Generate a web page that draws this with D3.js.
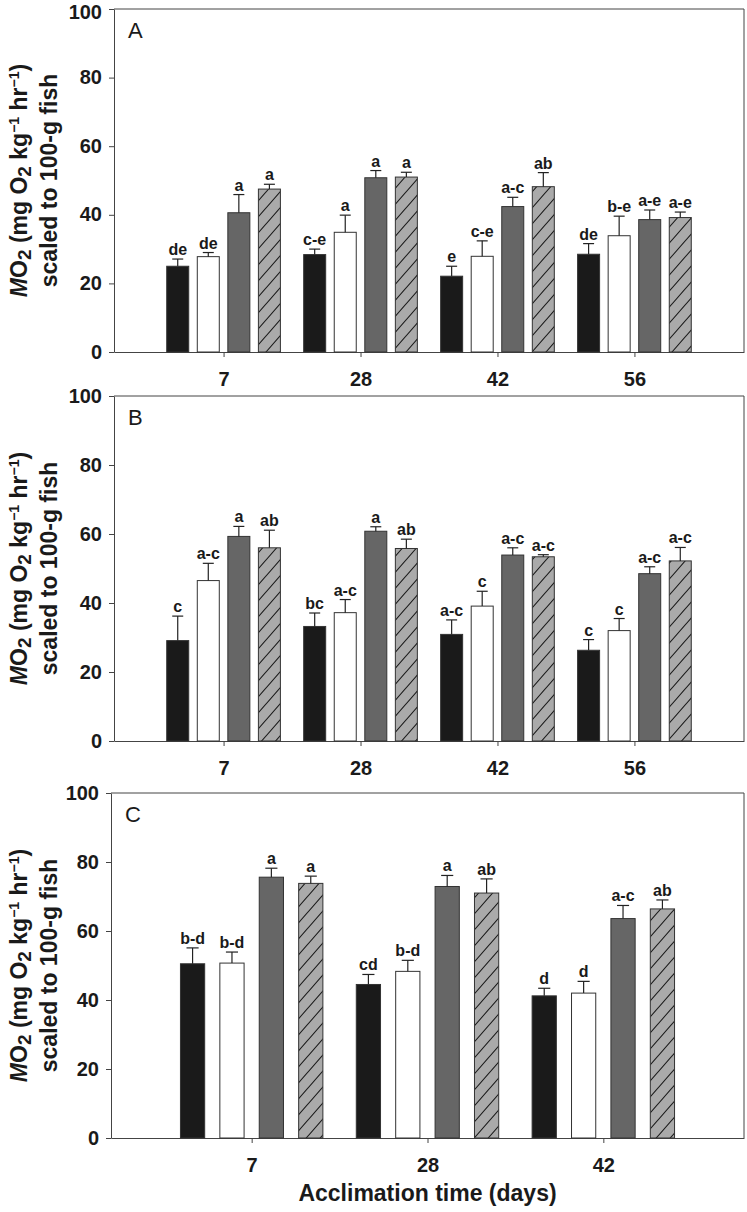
<!DOCTYPE html>
<html>
<head>
<meta charset="utf-8">
<script src="https://cdn.jsdelivr.net/npm/d3@7"></script>
<style>
  html, body { margin: 0; padding: 0; background: #fff; }
  svg { display: block; }
  text { font-family: "Liberation Sans", Arial, sans-serif; }
</style>
</head>
<body>
<svg id="chart" width="747" height="1212"></svg>
<script>
// ---------------- data ----------------
const daysAB = ["7", "28", "42", "56"];
const daysC = ["7", "28", "42"];
const treatments = ["T1", "T2", "T3", "T4"];
const yTicks = [0, 20, 40, 60, 80, 100];

const meanA = [[25.0, 27.8, 40.6, 47.5], [28.4, 34.9, 50.8, 51.0], [22.1, 27.9, 42.4, 48.2], [28.5, 33.9, 38.6, 39.2]];
const errA  = [[2.1, 1.2, 5.3, 1.4], [1.6, 5.0, 2.1, 1.4], [2.9, 4.5, 2.7, 4.1], [3.1, 5.7, 2.8, 1.6]];
const letA  = [["de", "de", "a", "a"], ["c-e", "a", "a", "a"], ["e", "c-e", "a-c", "ab"], ["de", "b-e", "a-e", "a-e"]];

const meanB = [[29.1, 46.5, 59.3, 56.0], [33.2, 37.2, 60.8, 55.8], [30.9, 39.1, 53.9, 53.4], [26.3, 32.0, 48.5, 52.2]];
const errB  = [[7.1, 5.0, 2.9, 5.1], [3.9, 3.8, 1.3, 2.7], [4.2, 4.3, 2.1, 0.6], [3.1, 3.5, 2.0, 3.9]];
const letB  = [["c", "a-c", "a", "ab"], ["bc", "a-c", "a", "ab"], ["a-c", "c", "a-c", "a-c"], ["c", "c", "a-c", "a-c"]];

const meanC = [[50.5, 50.7, 75.6, 73.8], [44.5, 48.3, 72.9, 71.0], [41.2, 42.0, 63.6, 66.4]];
const errC  = [[4.6, 3.2, 2.6, 2.1], [2.9, 3.2, 3.2, 4.1], [2.2, 3.4, 3.8, 2.6]];
const letC  = [["b-d", "b-d", "a", "a"], ["cd", "b-d", "a", "ab"], ["d", "d", "a-c", "ab"]];

const panelNames = ["A", "B", "C"];
const xTitle = "Acclimation time (days)";

// ---------------- styles / layout ----------------
const fills = ["#1a1a1a", "#ffffff", "#666666", "url(#hatch)"];
const svg = d3.select("#chart");

const defs = svg.append("defs");
const pat = defs.append("pattern")
  .attr("id", "hatch").attr("patternUnits", "userSpaceOnUse")
  .attr("width", 14).attr("height", 16);
pat.append("rect").attr("width", 14).attr("height", 16).attr("fill", "#aaaaaa");
pat.append("path").attr("d", "M0,16 L14,0 M-2,2.3 L2,-2.3 M12,18.3 L16,13.7")
  .attr("stroke", "#1a1a1a").attr("stroke-width", 1.1);

const panels = [
  { name: panelNames[0], days: daysAB, mean: meanA, err: errA, lets: letA, x0: 114, x1: 744, yTop: 9,   yBot: 352, groupFrac: 0.83, inner: 0.28, topLabelDy: "0.46em" },
  { name: panelNames[1], days: daysAB, mean: meanB, err: errB, lets: letB, x0: 114, x1: 744, yTop: 396, yBot: 741, groupFrac: 0.83, inner: 0.28, topLabelDy: "0.3em" },
  { name: panelNames[2], days: daysC,  mean: meanC, err: errC, lets: letC, x0: 111, x1: 744, yTop: 793, yBot: 1138, groupFrac: 0.81, inner: 0.385, topLabelDy: "0.3em" }
];

const FONT = "'Liberation Sans', Arial, sans-serif";

panels.forEach((p, pi) => {
  const g = svg.append("g");
  const x = d3.scalePoint().domain(p.days).range([p.x0, p.x1]).padding(0.8);
  const y = d3.scaleLinear().domain([0, 100]).range([p.yBot, p.yTop]);
  const groupW = x.step() * p.groupFrac;
  const xs = d3.scaleBand().domain(treatments).range([-groupW / 2, groupW / 2]).paddingInner(p.inner).paddingOuter(0);

  // frame (top & right)
  g.append("path")
    .attr("d", `M${p.x0},${p.yTop}H${p.x1}V${p.yBot}`)
    .attr("fill", "none").attr("stroke", "#444").attr("stroke-width", 1);

  // y axis
  const yAxis = d3.axisLeft(y).tickValues(yTicks).tickSize(5).tickPadding(7).tickSizeOuter(0);
  const ya = g.append("g").attr("transform", `translate(${p.x0},0)`).call(yAxis);
  ya.select(".domain").attr("stroke", "#444");
  ya.selectAll(".tick line").attr("stroke", "#444");
  ya.selectAll(".tick text").attr("font-size", 20).attr("font-weight", "bold")
    .attr("font-family", FONT).attr("fill", "#1a1a1a")
    .attr("dy", d => d === 100 ? p.topLabelDy : "0.3em");

  // x axis
  const xAxis = d3.axisBottom(x).tickSize(5).tickPadding(15).tickSizeOuter(0);
  const xa = g.append("g").attr("transform", `translate(0,${p.yBot})`).call(xAxis);
  xa.select(".domain").attr("stroke", "#444");
  xa.selectAll(".tick line").attr("stroke", "#444");
  xa.selectAll(".tick text").attr("font-size", 20).attr("font-weight", "bold")
    .attr("font-family", FONT).attr("fill", "#1a1a1a");

  // bars
  const rows = [];
  p.days.forEach((d, i) => treatments.forEach((t, j) => {
    rows.push({ day: d, t, j, v: p.mean[i][j], e: p.err[i][j], l: p.lets[i][j] });
  }));
  const bw = xs.bandwidth();
  const bars = g.append("g");
  bars.selectAll("rect").data(rows).join("rect")
    .attr("x", r => x(r.day) + xs(r.t))
    .attr("y", r => y(r.v))
    .attr("width", bw)
    .attr("height", r => y(0) - y(r.v))
    .attr("fill", r => fills[r.j])
    .attr("stroke", "#333").attr("stroke-width", 1);

  // error bars
  const eb = g.append("g").attr("stroke", "#222").attr("stroke-width", 1.2);
  eb.selectAll("line.v").data(rows).join("line").attr("class", "v")
    .attr("x1", r => x(r.day) + xs(r.t) + bw / 2).attr("x2", r => x(r.day) + xs(r.t) + bw / 2)
    .attr("y1", r => y(r.v)).attr("y2", r => y(r.v + r.e));
  eb.selectAll("line.c").data(rows).join("line").attr("class", "c")
    .attr("x1", r => x(r.day) + xs(r.t) + bw / 4).attr("x2", r => x(r.day) + xs(r.t) + bw * 3 / 4)
    .attr("y1", r => y(r.v + r.e)).attr("y2", r => y(r.v + r.e));

  // letters
  g.append("g").selectAll("text").data(rows).join("text")
    .attr("x", r => x(r.day) + xs(r.t) + bw / 2)
    .attr("y", r => y(r.v + r.e) - 4)
    .attr("text-anchor", "middle")
    .attr("font-size", 16).attr("font-weight", "bold").attr("fill", "#1a1a1a")
    .text(r => r.l);

  // panel letter
  g.append("text").attr("x", p.x0 + 14).attr("y", p.yTop + 29)
    .attr("font-size", 22).attr("fill", "#1a1a1a").text(p.name);

  // y title
  const cy = (p.yTop + p.yBot) / 2;
  const t1 = g.append("text").attr("transform", `translate(27,${cy}) rotate(-90)`)
    .attr("text-anchor", "middle").attr("font-size", 23).attr("font-weight", "bold").attr("fill", "#1a1a1a");
  t1.append("tspan").attr("font-style", "italic").text("M");
  t1.append("tspan").text("O");
  t1.append("tspan").attr("dy", 4).attr("font-size", 19).text("2");
  t1.append("tspan").attr("dy", -4).text(" (mg O");
  t1.append("tspan").attr("dy", 4).attr("font-size", 19).text("2");
  t1.append("tspan").attr("dy", -4).text(" kg");
  t1.append("tspan").attr("dy", -8).attr("font-size", 14).text("−1");
  t1.append("tspan").attr("dy", 8).text(" hr");
  t1.append("tspan").attr("dy", -8).attr("font-size", 14).text("−1");
  t1.append("tspan").attr("dy", 8).text(")");
  g.append("text").attr("transform", `translate(57,${cy}) rotate(-90)`)
    .attr("text-anchor", "middle").attr("font-size", 23).attr("font-weight", "bold").attr("fill", "#1a1a1a")
    .text("scaled to 100-g fish");

  if (pi === 2) {
    g.append("text").attr("x", (p.x0 + p.x1) / 2).attr("y", 1201)
      .attr("text-anchor", "middle").attr("font-size", 23).attr("font-weight", "bold").attr("fill", "#1a1a1a")
      .text(xTitle);
  }
});
</script>
</body>
</html>
